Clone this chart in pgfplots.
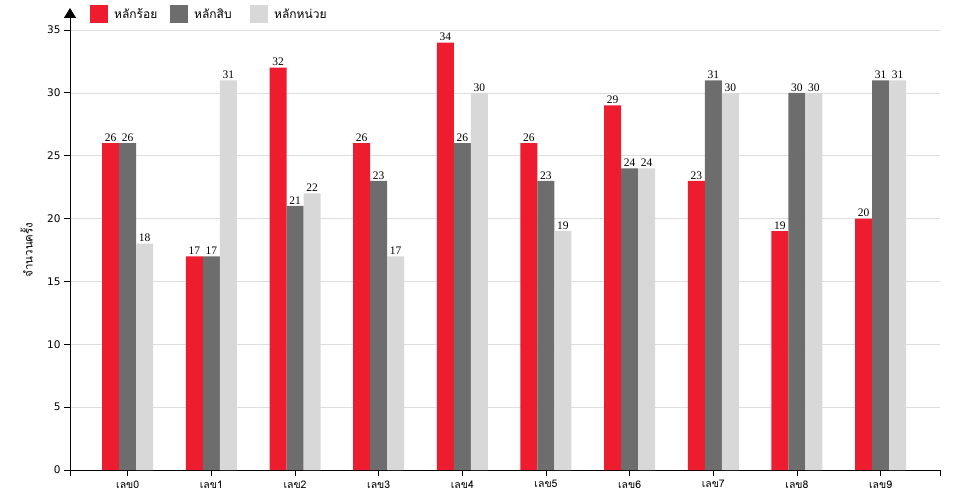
\documentclass[border=0pt]{standalone}
\usepackage{pgfplots}
\pgfplotsset{compat=1.18}
\usepackage{fontspec}
\setmainfont{DejaVu Sans}
\newfontfamily\thaifont[Script=Thai]{Loma}
\newfontfamily\serifnum{Liberation Serif}
\usetikzlibrary{arrows.meta}
\definecolor{cred}{HTML}{ED1C2E}
\definecolor{cgray}{HTML}{6D6D6D}
\definecolor{clight}{HTML}{D8D8D8}
\newcommand{\legbox}[1]{\makebox[56bp][l]{#1}}
\begin{document}
\begin{tikzpicture}
\path[use as bounding box] (0bp,0bp) rectangle (960bp,500bp);
\begin{axis}[
  at={(70bp,30bp)}, anchor=south west,
  scale only axis, width=870bp, height=440bp,
  ybar=0pt, bar width=17bp,
  xmin=-0.69, xmax=9.71, ymin=0, ymax=35,
  xtick={0,...,9},
  xticklabels={เลข0,เลข1,เลข2,เลข3,เลข4,เลข5,เลข6,เลข7,เลข8,เลข9},
  x tick label style={font=\thaifont\fontsize{10.5bp}{12bp}\selectfont, yshift=-1bp},
  ytick={0,5,...,35},
  y tick label style={font=\fontsize{10.5bp}{12bp}\selectfont},
  /pgf/number format/assume math mode=true,
  extra x ticks={-0.69,9.71}, extra x tick labels={,},
  extra x tick style={grid=none},
  axis x line*=bottom, axis y line*=left,
  axis line style={black, line width=0.9pt},
  tick style={black, line width=0.9pt},
  major tick length=6bp, tick align=outside,
  ymajorgrids, grid style={draw=black!13, line width=0.7pt},
  ylabel={\thaifont จำนวนครั้ง},
  ylabel style={font=\fontsize{11.5bp}{12bp}\selectfont, at={(axis description cs:-0.05,0.5)}, anchor=center},
  nodes near coords,
  nodes near coords style={font=\serifnum\fontsize{11.5bp}{12bp}\selectfont, black, inner sep=1.5bp},
  legend columns=3,
  legend style={at={(axis description cs:0.023,1.036)}, anchor=west, draw=none, fill=none,
    inner xsep=0pt, inner ysep=0pt,
    font=\thaifont\fontsize{12bp}{13bp}\selectfont,
    nodes={inner xsep=0pt},
    /tikz/every even column/.append style={column sep=0bp}},
  legend image code/.code={\fill[#1] (0bp,-9bp) rectangle (18bp,9bp); \path (24bp,0bp);},
  clip=false,
]
\addplot[fill=cred, draw=none] coordinates {(0,26) (1,17) (2,32) (3,26) (4,34) (5,26) (6,29) (7,23) (8,19) (9,20)};
\addplot[fill=cgray, draw=none] coordinates {(0,26) (1,17) (2,21) (3,23) (4,26) (5,23) (6,24) (7,31) (8,30) (9,31)};
\addplot[fill=clight, draw=none] coordinates {(0,18) (1,31) (2,22) (3,17) (4,30) (5,19) (6,24) (7,30) (8,30) (9,31)};
\legend{\legbox{หลักร้อย},\legbox{หลักสิบ},\legbox{หลักหน่วย}}
\end{axis}
\draw[black, line width=0.9pt, -{Triangle[width=12bp,length=10bp]}] (70bp,470bp) -- (70bp,492bp);
\end{tikzpicture}
\end{document}
